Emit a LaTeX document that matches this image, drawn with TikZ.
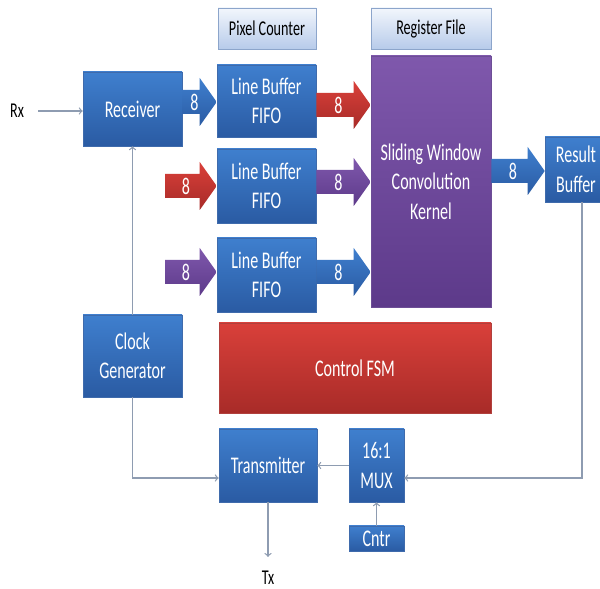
\documentclass[tikz,border=0pt]{standalone}
\usepackage{fontspec}
\setmainfont[FakeStretch=0.67]{Carlito}
\usetikzlibrary{calc,shadows}
\definecolor{bluetop}{HTML}{3F7FCE}
\definecolor{bluebot}{HTML}{2A5BA3}
\definecolor{redtop}{HTML}{D9403A}
\definecolor{redbot}{HTML}{A82B28}
\definecolor{purptop}{HTML}{7F58AC}
\definecolor{purpbot}{HTML}{5D3A8A}
\definecolor{headtop}{HTML}{F2F6FC}
\definecolor{headbot}{HTML}{B7CBEA}
\definecolor{headline}{HTML}{8CA5CB}
\definecolor{wiregray}{HTML}{8E9CB1}
\tikzset{
  bdsize/.style 2 args={minimum width=#1*0.025cm, minimum height=#2*0.025cm},
  bdbox/.style={rectangle, inner sep=2pt, align=center, text=white, line width=0.4pt,
    font=\fontsize{17}{21}\selectfont,
    drop shadow={opacity=0.25, shadow xshift=0.8pt, shadow yshift=-0.8pt}},
  bdblue/.style={bdbox, top color=bluetop, bottom color=bluebot, draw=bluebot!90},
  bdred/.style={bdbox, top color=redtop, bottom color=redbot, draw=redbot!90},
  bdpurple/.style={bdbox, top color=purptop, bottom color=purpbot, draw=purpbot!90},
  bdhead/.style={rectangle, inner sep=2pt, top color=headtop, bottom color=headbot,
    draw=headline, line width=0.6pt, text=black, font=\fontsize{15}{18}\selectfont},
  bdblueflow/.style={top color=bluetop, bottom color=bluebot},
  bdredflow/.style={top color=redtop, bottom color=redbot},
  bdpurpflow/.style={top color=purptop, bottom color=purpbot},
  bdnum/.style={text=white, inner sep=0pt, font=\fontsize{17}{20}\selectfont},
  bdwire/.style={draw=wiregray, line width=0.9pt, ->},
  bdtext/.style={text=black, inner sep=2pt, font=\fontsize{15}{18}\selectfont},
}
% fat bus arrow: style, from, to, y, name
\newcommand{\bdfat}[5]{%
  \path[#1] (#3 |- 0,#4) coordinate (#5tip) -- ++(-17,-24) -- ++(0,12)
    -- (#2 |- 0,#4-12) -- (#2 |- 0,#4+12) -- ($(#5tip)+(-17,12)$) -- ++(0,12) -- cycle;
  \node[bdnum] (#5) at ($(#2 |- 0,#4)!0.5!(#5tip)+(-5,0)$) {8};
}

\begin{document}
\begin{tikzpicture}[x=0.025cm, y=-0.025cm]
\fill[white] (0,0) rectangle (600,589);
\clip (0,0) rectangle (600,589);

% headers
\node[bdhead, bdsize={98}{41}] (pixcnt) at (267,28.5) {Pixel Counter};
\node[bdhead, bdsize={120}{41}] (regfile) at (431,28.5) {Register File};

% datapath blocks
\node[bdblue, bdsize={99}{74}] (rcv) at (132.5,109) {Receiver};
\node[bdblue, bdsize={99}{72}] (lb1) at (266.5,101) {Line Buffer\\FIFO};
\node[bdblue, bdsize={99}{74}] (lb2) at (266.5,186) {Line Buffer\\FIFO};
\node[bdblue, bdsize={99}{74}] (lb3) at (266.5,275) {Line Buffer\\FIFO};
\node[bdpurple, bdsize={120}{251}] (swin) at (431,181.5) {Sliding Window\\Convolution\\Kernel};
\node[bdblue, bdsize={62}{65}] (rbuf) at (576,169.5) {Result\\Buffer};
\node[bdblue, bdsize={99}{82}] (clk) at (132.5,356) {Clock\\Generator};
\node[bdred, bdsize={272}{90}] (fsm) at (355,368) {Control FSM};
\node[bdblue, bdsize={98}{73}] (tx) at (268,465.5) {Transmitter};
\node[bdblue, bdsize={55}{73}] (mux) at (376.5,465.5) {16:1\\MUX};
\node[bdblue, bdsize={55}{25}] (cntr) at (376.5,538.5) {Cntr};

% ports
\node[bdtext] (rxin) at (17,111) {Rx};
\node[bdtext] (txout) at (268,578) {Tx};
\coordinate (in2) at (165,186);
\coordinate (in3) at (165,272);

% 8-bit buses
\bdfat{bdblueflow}{rcv.east}{lb1.west}{102}{bus1}
\bdfat{bdredflow}{lb1.east}{swin.west}{105}{bus2}
\bdfat{bdredflow}{in2}{lb2.west}{186}{bus3}
\bdfat{bdpurpflow}{lb2.east}{swin.west}{182}{bus4}
\bdfat{bdpurpflow}{in3}{lb3.west}{272}{bus5}
\bdfat{bdblueflow}{lb3.east}{swin.west}{272}{bus6}
\bdfat{bdblueflow}{swin.east}{rbuf.west}{171}{bus7}

% control wires
\draw[bdwire, shorten <=8pt] (rxin.east) -- (rcv.west |- rxin.east);
\draw[bdwire] (clk.north) -- (rcv.south);
\draw[bdwire] (clk.south) |- (tx.west |- 0,478);
\draw[bdwire] (rbuf.south -| 582,0) |- (mux.east |- 0,478);
\draw[bdwire] (mux.west) -- (tx.east);
\draw[bdwire] (cntr.north) -- (mux.south);
\draw[bdwire, shorten >=8pt] (tx.south) -- (txout.north);
\end{tikzpicture}
\end{document}
